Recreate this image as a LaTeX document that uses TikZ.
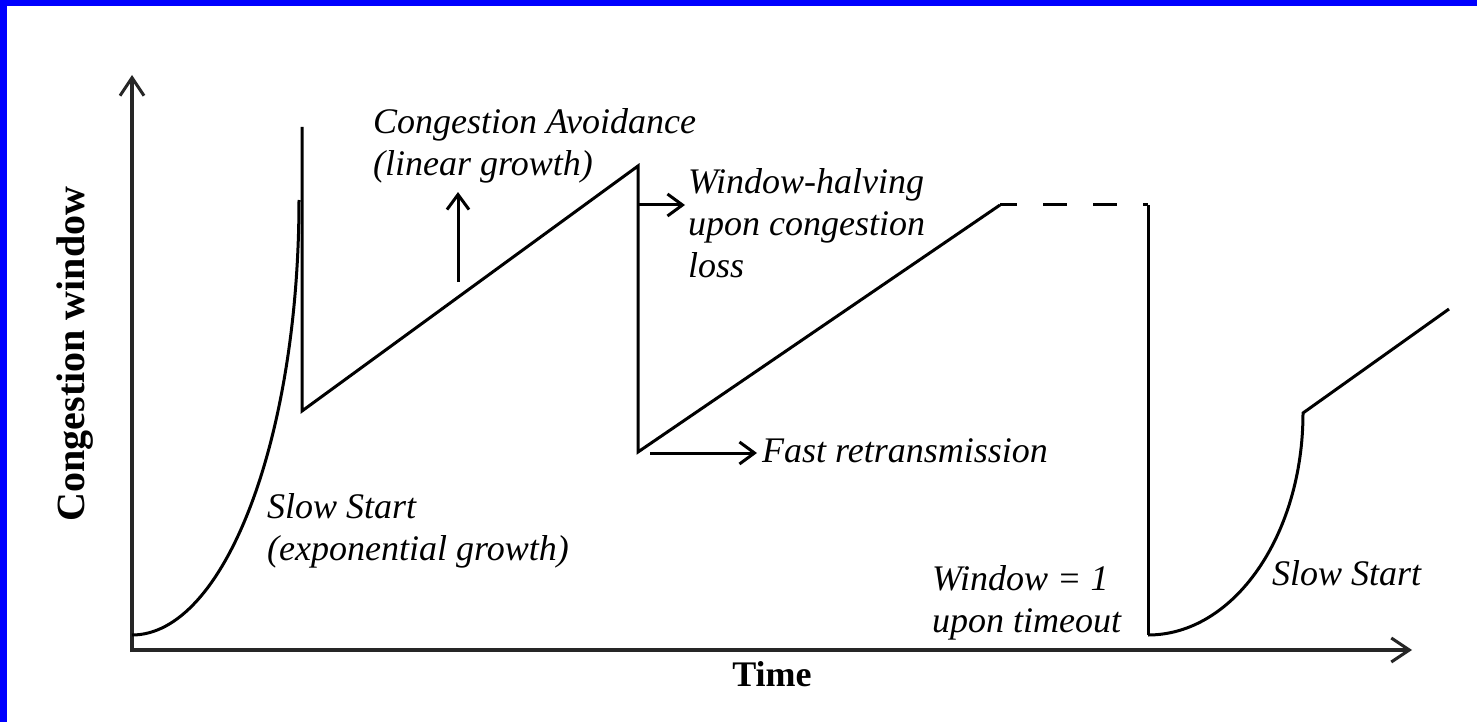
\documentclass[tikz,border=0pt]{standalone}
\usepackage{fontspec}
\setmainfont{Liberation Serif}
\usetikzlibrary{arrows.meta}

\tikzset{
  Curve/.style     = {line width=3pt},
  Axis/.style      = {line width=3.5pt, draw=black!85,
                      -{Straight Barb[length=18pt, width=24pt, line width=3pt]}},
  Pointer/.style   = {line width=3pt, -{Straight Barb[length=15pt, width=22pt]}},
  Label/.style     = {font=\itshape\fontsize{36}{42}\selectfont, align=left,
                      inner sep=0pt, anchor=north west},
  AxisLabel/.style = {font=\bfseries\fontsize{36}{42}\selectfont, inner sep=0pt}
}

\begin{document}
\begin{tikzpicture}[x=1pt, y=-1pt]
    % frame
    \fill[blue]  (0,0) rectangle (1477,722);
    \fill[white] (7,6) rectangle (1477,722);
    \useasboundingbox (0,0) rectangle (1477,722);

    \coordinate (origin) at (132,650);
    \coordinate (xend)   at (1412,650);
    \coordinate (yend)   at (132,75);

    \draw[Axis] (origin) -- (xend);
    \draw[Axis] ([yshift=-2pt]origin) -- (yend);

    \node[AxisLabel]            (time) at (772,674) {Time};
    \node[AxisLabel, rotate=90, font=\bfseries\fontsize{40}{46}\selectfont]
        (cwnd) at (75,354) {Congestion window};

    % window trace
    \coordinate (start)   at (132,635);
    \coordinate (top1)    at (299,200);
    \coordinate (peak1)   at (302,127);
    \coordinate (drop1)   at (302,411);
    \coordinate (peak2)   at (638,166);
    \coordinate (drop2)   at (638,452);
    \coordinate (flat)    at (1000,205);
    \coordinate (timeout) at (1148,205);
    \coordinate (reset)   at (1148,635);
    \coordinate (knee)    at (1303,413);
    \coordinate (last)    at (1449,309);

    \draw[Curve] (start) .. controls +(92,0) and +(0,240) .. (top1);
    \draw[Curve] (peak1) -- (drop1) -- (peak2) -- (drop2) -- (flat);
    \draw[Curve, dash pattern=on 24pt off 26pt, dash phase=7pt] (flat) -- (timeout);
    \draw[Curve] (timeout) -- (reset);
    \draw[Curve] (reset) .. controls +(86,0) and +(0,122) .. (knee) -- (last);

    % labels
    \node[Label] (ca)  at (373,108) {Congestion Avoidance\\(linear growth)};
    \node[Label] (wh)  at (688,168) {Window-halving\\upon congestion\\loss};
    \node[Label, anchor=base west] (fr) at (762,462) {Fast retransmission};
    \node[Label] (ss1) at (267,493) {Slow Start\\(exponential growth)};
    \node[Label] (w1)  at (932,565) {Window = 1\\upon timeout};
    \node[Label] (ss2) at (1272,560) {Slow Start};

    % pointers
    \coordinate (grow)  at (458,282);
    \coordinate (halve) at (639,205);
    \coordinate (fast)  at (650,453);

    \draw[Pointer] (grow)  -- ([yshift=-9pt]ca.south -| grow);
    \draw[Pointer] (halve) -- ([xshift=-3pt]wh.west |- halve);
    \draw[Pointer] (fast)  -- ([xshift=-5pt]fr.west |- fast);
\end{tikzpicture}
\end{document}
